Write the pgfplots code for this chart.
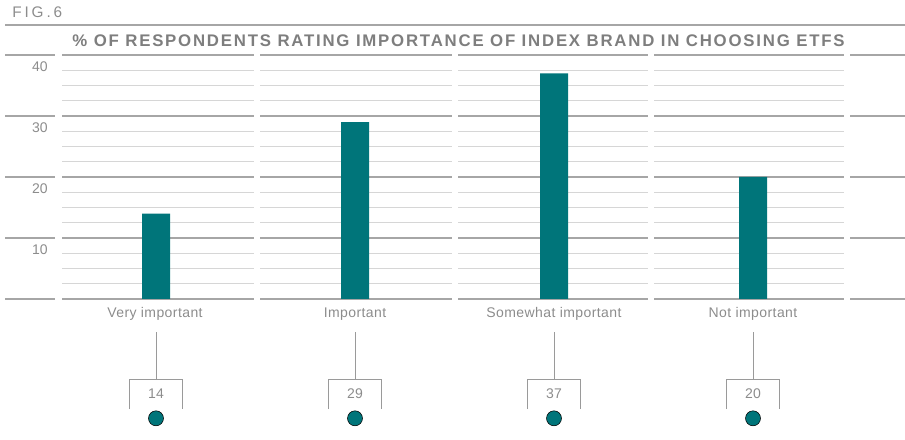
\documentclass[border=0pt]{standalone}
\usepackage{fontspec}
\setmainfont{Liberation Sans}
\newfontfamily\titlefont[LetterSpace=10.6]{Liberation Sans}
\newfontfamily\figfont[LetterSpace=19]{Liberation Sans}
\newfontfamily\labfont[LetterSpace=3]{Liberation Sans}
\usepackage{pgfplots}
\pgfplotsset{compat=1.18}
\definecolor{barteal}{HTML}{00757A}
\definecolor{txtgray}{HTML}{8C8C8C}
\definecolor{ttlgray}{HTML}{7E7E7E}
\definecolor{thickgray}{HTML}{A6A6A6}
\definecolor{thingray}{HTML}{D6D6D6}
\definecolor{boxgray}{HTML}{9A9A9A}
\begin{document}
\begin{tikzpicture}
\useasboundingbox (0,0) rectangle (678.75pt,329.25pt);
% grid (pixel coordinates)
\begin{scope}[x=0.75pt,y=-0.75pt,yshift=329.25pt]
  \draw[thickgray,line width=1.5pt] (5,25) -- (905,25);
  \foreach \v in {2.5,5,7.5,12.5,15,17.5,22.5,25,27.5,32.5,35,37.5}{
    \pgfmathsetmacro\yy{299-6.1*\v}
    \foreach \a/\b in {62/254,260/452,458/648,654/844}
      \draw[thingray,line width=0.75pt] (\a,\yy) -- (\b,\yy);
  }
  \foreach \v in {0,10,20,30,40}{
    \pgfmathsetmacro\yy{299-6.1*\v}
    \foreach \a/\b in {5/55,62/254,260/452,458/648,654/844,850/905}
      \draw[thickgray,line width=1.5pt] (\a,\yy) -- (\b,\yy);
  }
  \foreach \X in {156,355,554,753}{
    \draw[boxgray,line width=0.75pt] (\X,332) -- (\X,379);
    \draw[boxgray,line width=0.75pt] (\X-26.5,409) -- (\X-26.5,379) -- (\X+26.5,379) -- (\X+26.5,409);
  }
\end{scope}
\begin{axis}[at={(0,0)}, anchor=south west, scale only axis,
  width=678.75pt, height=329.25pt,
  xmin=-0.78392, xmax=3.76382, ymin=-22.9508, ymax=49.0164,
  hide axis, clip=false]
  \addplot[ybar, bar width=21pt, fill=barteal, draw=none]
    coordinates {(0,14) (1,29) (2,37) (3,20)};
  \addplot[only marks, mark=*, mark size=5.625pt,
    mark options={fill=barteal, draw=none},
    point meta=explicit symbolic, nodes near coords,
    every node near coord/.append style={anchor=base, yshift=15.2pt,
      text=txtgray, inner sep=0pt, font=\fontsize{10.5}{12}\selectfont}]
    coordinates {(0,-19.56)[14] (1,-19.56)[29] (2,-19.56)[37] (3,-19.56)[20]};
\end{axis}
\begin{scope}[x=0.75pt,y=-0.75pt,yshift=329.25pt]
  \node[anchor=base west, inner sep=0, text=txtgray, font=\figfont\fontsize{11.5}{13}\selectfont] at (12,17.5) {FIG.6};
  \node[anchor=base, inner sep=0, text=ttlgray, font=\titlefont\bfseries\fontsize{12.6}{14}\selectfont] at (458.5,47)
    {\% OF RESPONDENTS RATING IMPORTANCE OF INDEX BRAND IN CHOOSING ETFS};
  \foreach \v/\yy in {40/71.7,30/132.7,20/193.7,10/254.7}
    \node[anchor=base east, inner sep=0, text=txtgray, font=\fontsize{10.5}{12}\selectfont] at (48,\yy) {\v};
  \foreach \X/\t in {155/Very important,355/Important,554/Somewhat important,753/Not important}
    \node[anchor=base, inner sep=0, text=txtgray, font=\labfont\fontsize{10.5}{12}\selectfont] at (\X,317) {\t};
\end{scope}
\end{tikzpicture}
\end{document}
